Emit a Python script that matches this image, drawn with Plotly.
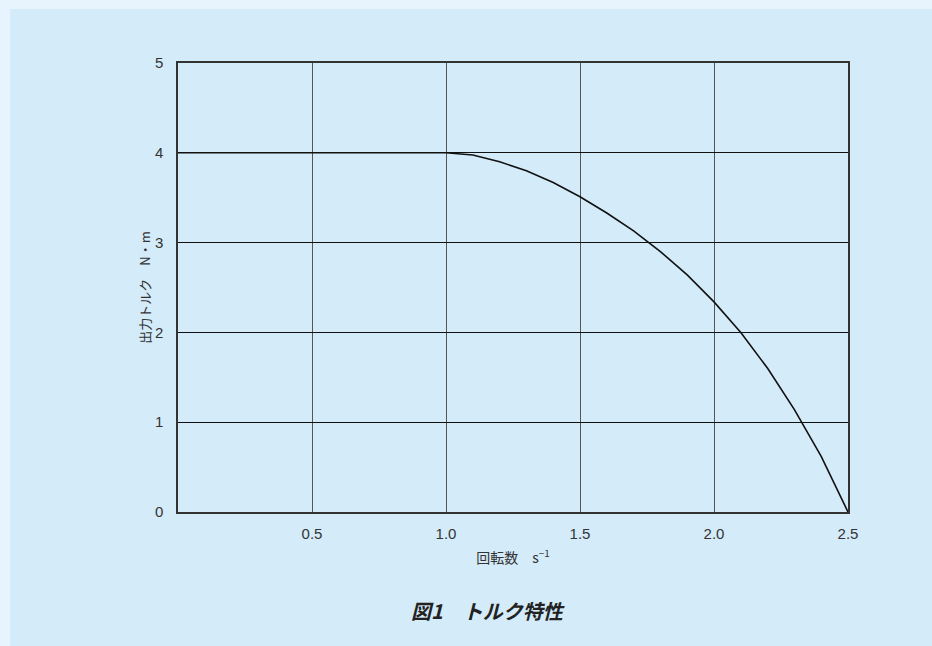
import plotly.graph_objects as go

# Data
speed = [0.0, 0.5, 1.0, 1.1, 1.2, 1.3, 1.4, 1.5, 1.6, 1.7, 1.8, 1.9, 2.0, 2.1, 2.2, 2.3, 2.4, 2.5]
torque = [4.0, 4.0, 4.0, 3.975, 3.9, 3.8, 3.67, 3.51, 3.33, 3.13, 2.9, 2.64, 2.34, 2.0, 1.6, 1.14, 0.62, 0.0]

x_ticks = [0.5, 1.0, 1.5, 2.0, 2.5]
x_tick_labels = ["0.5", "1.0", "1.5", "2.0", "2.5"]
y_ticks = [0, 1, 2, 3, 4, 5]
y_tick_labels = ["0", "1", "2", "3", "4", "5"]

JP = "Noto Sans CJK JP, sans-serif"
LAT = "Liberation Sans, Arial, sans-serif"

fig = go.Figure()
fig.add_trace(go.Scatter(
    x=speed, y=torque, mode="lines",
    line=dict(color="#111111", width=1.6, shape="linear"),
    hoverinfo="skip", showlegend=False,
))

W, H = 932, 646
L, R, T, B = 178, 84, 63, 134
pw, ph = W - L - R, H - T - B

def px(x):
    return (x - L) / pw

def py(y):
    return (H - B - y) / ph

fig.update_layout(
    width=W, height=H,
    margin=dict(l=L, r=R, t=T, b=B, pad=0),
    paper_bgcolor="#E7F4FD",
    plot_bgcolor="#FFFFFF",
    shapes=[dict(type="rect", xref="paper", yref="paper",
                 x0=px(10), x1=px(940), y0=py(9), y1=py(660),
                 fillcolor="#D4EBF9", line=dict(width=0), layer="below")],
    xaxis=dict(
        range=[0, 2.5], tickvals=x_ticks, ticktext=x_tick_labels,
        showgrid=True, gridcolor="#555555", gridwidth=1.2,
        showline=True, linecolor="#333333", linewidth=1.5, mirror=True,
        zeroline=False, ticks="", ticklabelstandoff=7,
        tickfont=dict(family=LAT, size=15, color="#333333"),
        title=dict(text="回転数　s<sup>−1</sup>", font=dict(family=JP, size=14, color="#333333"), standoff=12),
        fixedrange=True,
    ),
    yaxis=dict(
        range=[0, 5], tickvals=y_ticks, ticktext=y_tick_labels,
        showgrid=True, gridcolor="#111111", gridwidth=1.2,
        showline=True, linecolor="#333333", linewidth=1.5, mirror=True,
        zeroline=False, ticks="", ticklabelstandoff=10,
        tickfont=dict(family=LAT, size=15, color="#333333"),
        title=dict(text="出力トルク　N・m", font=dict(family=JP, size=13, color="#333333"), standoff=1),
        fixedrange=True,
    ),
    annotations=[dict(
        text="<b><i>図1　トルク特性</i></b>", xref="paper", yref="paper",
        x=px(488), y=py(610), xanchor="center", yanchor="middle",
        showarrow=False, font=dict(family=JP, size=20, color="#222222"),
    )],
)

fig.write_html(
    "out.html",
    config={"displayModeBar": False},
    post_script="document.body.style.margin='0';document.body.style.background='#E7F4FD';",
)
